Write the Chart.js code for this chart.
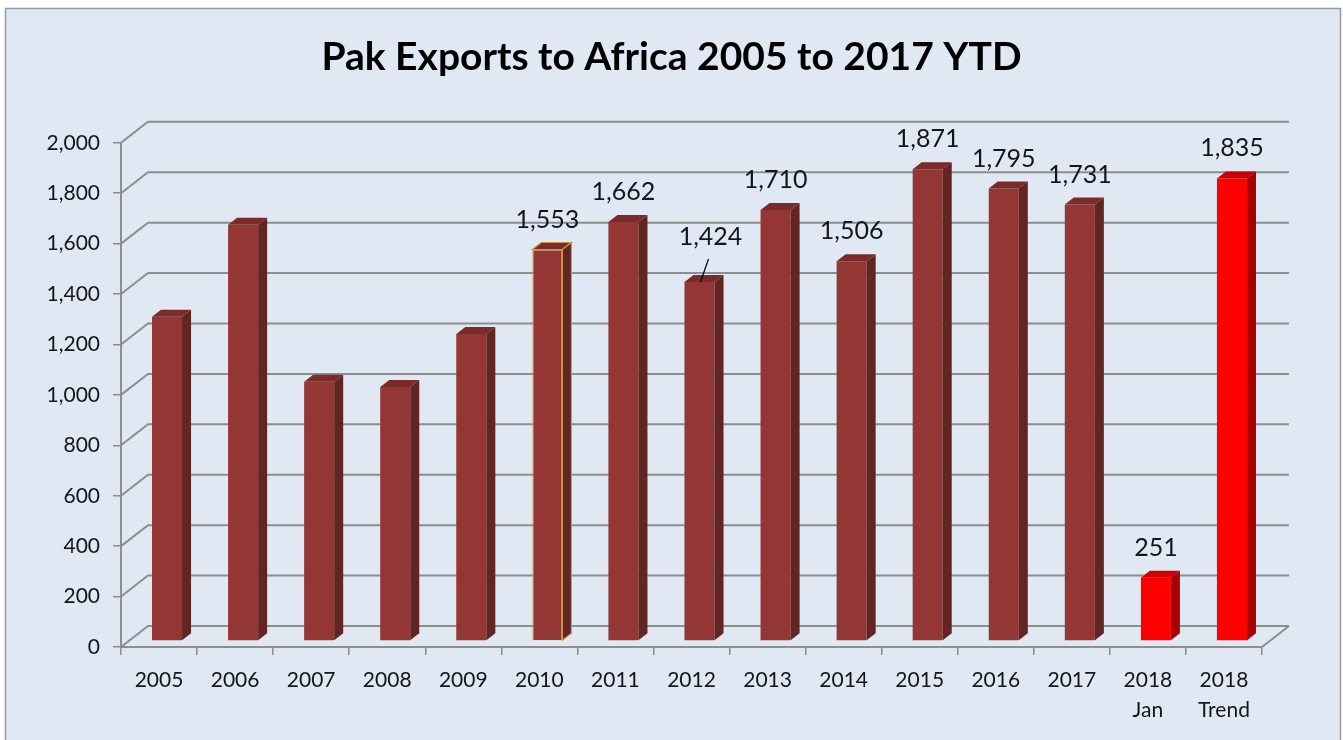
<!DOCTYPE html>
<html>
<head>
<meta charset="utf-8">
<title>Pak Exports to Africa</title>
<script src="https://cdn.jsdelivr.net/npm/chart.js@4.4.1/dist/chart.umd.min.js"></script>
<style>
    body { margin: 0; background: #fff; }
    canvas { display: block; }
</style>
</head>
<body>
<canvas id="myChart" width="1343" height="740"></canvas>
<script>
// data (2005-2009 have no data labels, so they are estimates)
const categories = ["2005", "2006", "2007", "2008", "2009", "2010", "2011", "2012",
    "2013", "2014", "2015", "2016", "2017", ["2018", "Jan"], ["2018", "Trend"]];
const exportValues = [1286, 1651, 1028, 1008, 1218, 1553, 1662, 1424,
    1710, 1506, 1871, 1795, 1731, 251, 1835];
const showLabel = [false, false, false, false, false, true, true, true,
    true, true, true, true, true, true, true];
const yTicks = [0, 200, 400, 600, 800, 1000, 1200, 1400, 1600, 1800, 2000];
const chartTitle = "Pak Exports to Africa 2005 to 2017 YTD";

// 3d look
const wall = { dx: 27, dy: -21 };   // back wall offset
const inset = { dx: 8, dy: -6 };    // bars sit a bit behind the front plane
const depth = { dx: 9, dy: -7 };    // bar depth
const maroon = { front: "#943634", side: "#632523", top: "#7b2c2a" };
const red = { front: "#ff0000", side: "#a80000", top: "#cc0000" };
const gridColor = "#8e8e8e";
const textColor = "#15151c";

function barColors(i) {
    return i >= 13 ? red : maroon;
}

const frame = {
    id: "frame",
    beforeDraw(chart) {
        const c = chart.ctx;
        c.save();
        c.fillStyle = "#fff";
        c.fillRect(0, 0, chart.width, chart.height);
        c.fillStyle = "#dfe8f3";
        c.fillRect(5, 8, 1336, 740);
        c.strokeStyle = "#9a9a9a";
        c.lineWidth = 1.5;
        c.strokeRect(5.5, 8.5, 1335, 740);
        c.restore();
    },
    beforeDatasetsDraw(chart) {
        const c = chart.ctx;
        const y = chart.scales.y;
        const area = chart.chartArea;
        c.save();
        c.strokeStyle = gridColor;
        c.lineWidth = 2;
        y.ticks.forEach(function (t) {
            const py = y.getPixelForValue(t.value);
            c.beginPath();
            c.moveTo(area.left, py);
            c.lineTo(area.left + wall.dx, py + wall.dy);
            c.lineTo(area.right + wall.dx, py + wall.dy);
            if (t.value === 0) {
                c.moveTo(area.right, py);
                c.lineTo(area.right + wall.dx, py + wall.dy);
            }
            c.stroke();
        });
        c.restore();

        c.save();
        c.translate(inset.dx, inset.dy);
    },
    afterDatasetsDraw(chart) {
        const c = chart.ctx;
        const meta = chart.getDatasetMeta(0);
        meta.data.forEach(function (bar, i) {
            const col = barColors(i);
            const left = bar.x - bar.width / 2;
            const right = bar.x + bar.width / 2;
            const top = bar.y;
            const base = bar.base;

            c.fillStyle = col.top;
            c.beginPath();
            c.moveTo(left, top);
            c.lineTo(left + depth.dx, top + depth.dy);
            c.lineTo(right + depth.dx, top + depth.dy);
            c.lineTo(right, top);
            c.closePath();
            c.fill();
            if (i === 5) {
                c.strokeStyle = "#c8963e";
                c.lineWidth = 1.2;
                c.stroke();
            }

            c.fillStyle = col.side;
            c.beginPath();
            c.moveTo(right, top);
            c.lineTo(right + depth.dx, top + depth.dy);
            c.lineTo(right + depth.dx, base + depth.dy);
            c.lineTo(right, base);
            c.closePath();
            c.fill();
            if (i === 5) c.stroke();
        });

        // data labels
        c.fillStyle = textColor;
        c.font = "25px Lato";
        c.textAlign = "center";
        c.textBaseline = "middle";
        meta.data.forEach(function (bar, i) {
            if (!showLabel[i]) return;
            const txt = exportValues[i].toLocaleString("en-US");
            if (i === 7) {
                // moved label with a leader line
                c.fillText(txt, bar.x + 11, bar.y - 45);
                c.strokeStyle = "#000";
                c.lineWidth = 1.2;
                c.beginPath();
                c.moveTo(bar.x + 1, bar.y);
                c.lineTo(bar.x + 9, bar.y - 23);
                c.stroke();
            } else {
                c.fillText(txt, bar.x, bar.y - 30);
            }
        });
        c.restore();
    }
};

const ctx = document.getElementById("myChart").getContext("2d");
const myChart = new Chart(ctx, {
    type: "bar",
    data: {
        labels: categories,
        datasets: [
            {
                label: "Exports",
                data: exportValues,
                backgroundColor: exportValues.map((v, i) => barColors(i).front),
                borderColor: exportValues.map((v, i) => i === 5 ? "#c8963e" : "rgba(0,0,0,0)"),
                borderWidth: exportValues.map((v, i) => i === 5 ? 1.2 : 0),
                barPercentage: 0.395,
                categoryPercentage: 1,
            },
        ],
    },
    options: {
        responsive: false,
        animation: false,
        events: [],
        layout: {
            padding: 0,
        },
        plugins: {
            legend: { display: false },
            tooltip: { enabled: false },
            title: {
                display: true,
                text: chartTitle,
                color: "#000",
                font: { family: "Lato", size: 39, weight: "bold", lineHeight: 1.2 },
                padding: { top: 34, bottom: 62 },
            },
        },
        scales: {
            x: {
                grid: {
                    drawOnChartArea: false,
                    drawTicks: true,
                    tickLength: 8,
                    color: gridColor,
                    lineWidth: 1.5,
                },
                border: { display: true, color: gridColor, width: 2 },
                ticks: {
                    color: textColor,
                    font: { family: "Lato", size: 21, lineHeight: 1.45 },
                    padding: 10,
                    maxRotation: 0,
                    autoSkip: false,
                },
                afterFit(scale) {
                    scale.height = 93;
                },
            },
            y: {
                min: 0,
                max: 2000,
                afterBuildTicks(scale) {
                    scale.ticks = yTicks.map((v) => ({ value: v }));
                },
                grid: {
                    drawOnChartArea: false,
                    drawTicks: true,
                    tickLength: 8,
                    color: gridColor,
                    lineWidth: 1.5,
                },
                border: { display: true, color: gridColor, width: 2 },
                ticks: {
                    color: textColor,
                    font: { family: "Lato", size: 21 },
                    padding: 13,
                    callback: (v) => v.toLocaleString("en-US"),
                },
                afterFit(scale) {
                    scale.width = 121;
                },
            },
            // empty right axis, only reserves room for the back wall
            spacer: {
                type: "linear",
                position: "right",
                grid: { display: false },
                border: { display: false },
                ticks: { display: false },
                afterFit(scale) {
                    scale.width = 81;
                },
            },
        },
    },
    plugins: [frame],
});
</script>
</body>
</html>
